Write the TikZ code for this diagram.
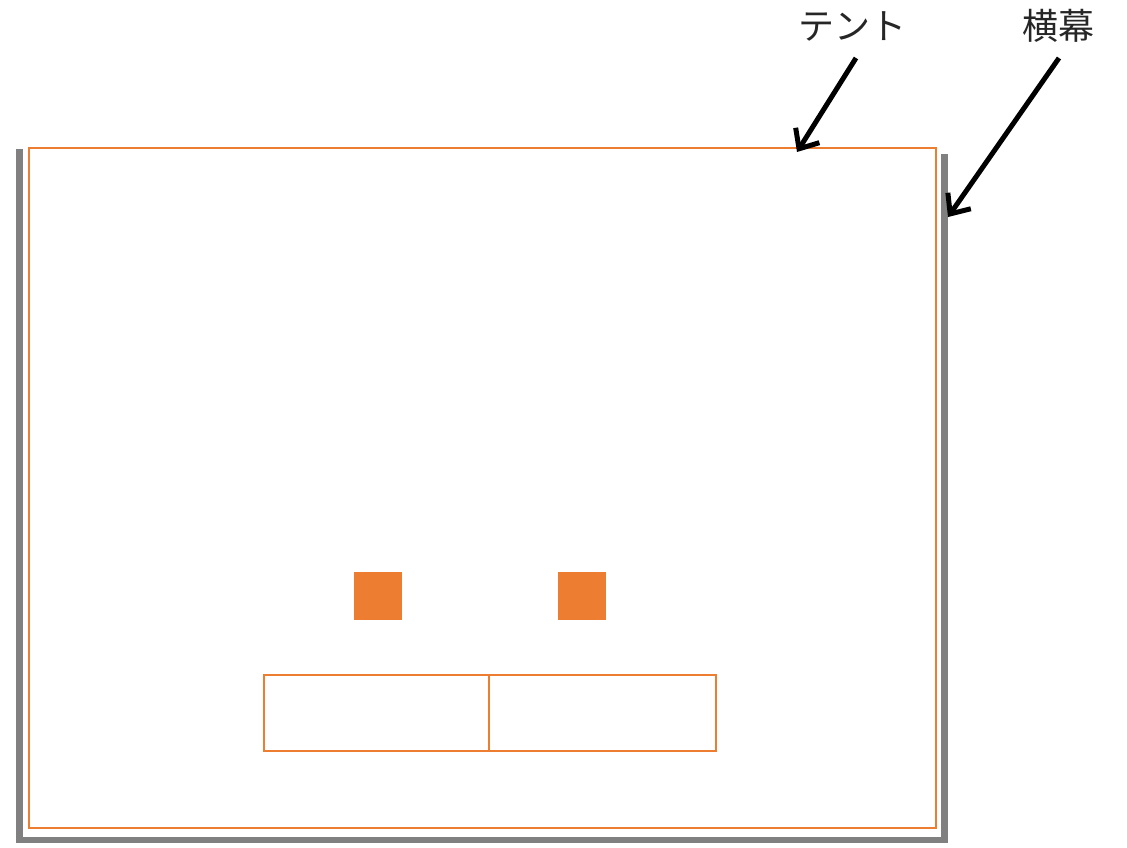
\documentclass[tikz,border=0pt]{standalone}
\usepackage{fontspec}
\usepackage{xcolor}
\usetikzlibrary{arrows.meta, positioning, calc}
\newfontfamily\jpfont{Noto Sans CJK JP}
\definecolor{tentorange}{HTML}{ED7D31}
\definecolor{makugray}{HTML}{808080}

\begin{document}
\begin{tikzpicture}[x=1pt, y=-1pt,
    every node/.style={inner sep=0pt, outer sep=0pt},
    outline/.style={rectangle, draw=tentorange, line width=2pt},
    post/.style={rectangle, fill=tentorange, minimum size=48pt},
    label/.style={font=\jpfont\fontsize{36pt}{42pt}\selectfont, text=black!85},
    pointer/.style={line width=5pt, -{Straight Barb[length=16pt, width=28pt, line width=5pt]}}]
    \useasboundingbox (0,0) rectangle (1127,848);
    % side curtain
    \draw[makugray, line width=6.5pt, line join=miter]
        (19.5,149) -- (19.5,840) -- (944.5,840) -- (944.5,154);
    % tent
    \node[outline, minimum width=907pt, minimum height=680pt] (tent) at (482.5,488) {};
    \node[post] (postL) at (378,596) {};
    \node[post] (postR) at (582,596) {};
    \node[outline, minimum width=224.5pt, minimum height=75.5pt] (deskL) at (376.4,713) {};
    \node[outline, minimum width=227pt, minimum height=75.5pt, right=0pt of deskL] (deskR) {};
    % labels
    \node[label] (tentlabel) at (852,26) {テント};
    \node[label] (makulabel) at (1058,26) {横幕};
    \coordinate (tenttail) at (856,58);
    \coordinate (tenttip) at (797,152);
    \coordinate (makutail) at (1059,58);
    \coordinate (makutip) at (948,217);
    \draw[pointer] (tenttail) -- (tenttip);
    \draw[pointer] (makutail) -- (makutip);
\end{tikzpicture}
\end{document}
